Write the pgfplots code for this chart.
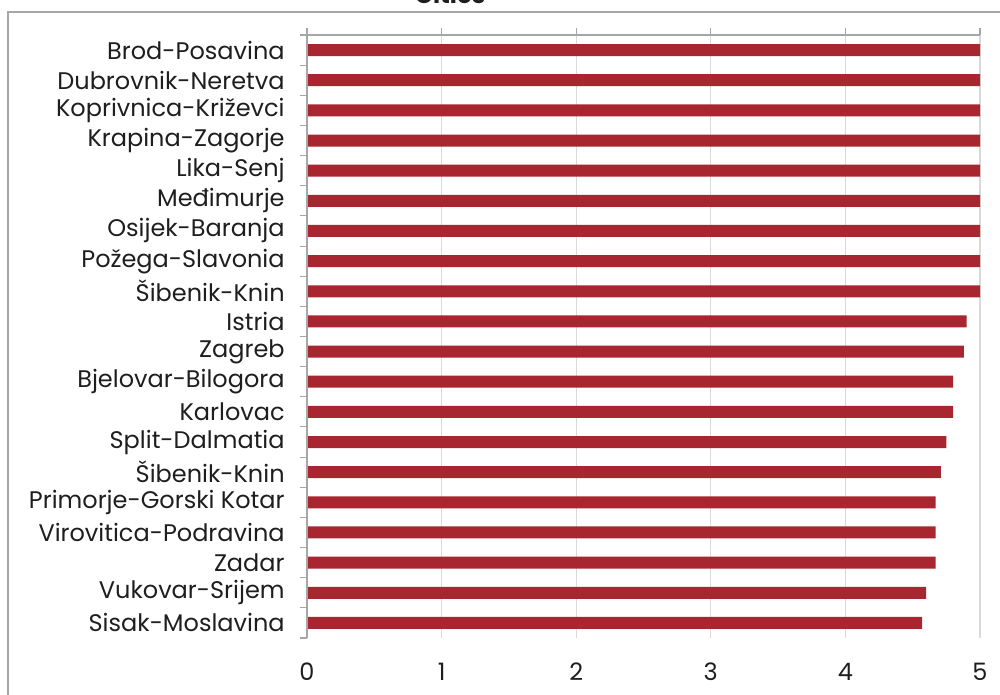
\documentclass[border=0pt]{standalone}
\usepackage{fontspec}
\setmainfont{Poppins}
\usepackage{pgfplots}
\pgfplotsset{compat=1.18}
\definecolor{barred}{RGB}{168,38,48}
\definecolor{gridgray}{RGB}{217,217,217}
\definecolor{axisgray}{RGB}{166,166,166}
\definecolor{txt}{RGB}{30,30,30}
\begin{document}
\begin{tikzpicture}
\useasboundingbox (0,0) rectangle (750pt,521.25pt);
% outer chart frame (cut at right and bottom)
\draw[axisgray, line width=1.2pt] (6pt,-5pt) -- (6pt,512.25pt) -- (760pt,512.25pt);
\node[anchor=base, text=txt, font=\bfseries\fontsize{18}{20}\selectfont] at (337.5pt,518.25pt) {Cities};
\begin{axis}[
  at={(230.25pt,42.75pt)}, anchor=south west,
  scale only axis, width=504.75pt, height=452.25pt,
  xbar, bar width=9pt, bar shift=0pt,
  xmin=0, xmax=5, ymin=0.5, ymax=20.5, y dir=reverse,
  xtick={0,...,5}, xtick pos=right, xticklabel pos=left,
  ytick={1,...,20}, ytick pos=left,
  yticklabels={Brod-Posavina, Dubrovnik-Neretva, Koprivnica-Križevci, Krapina-Zagorje,
    Lika-Senj, Međimurje, Osijek-Baranja, Požega-Slavonia, Šibenik-Knin, Istria, Zagreb,
    Bjelovar-Bilogora, Karlovac, Split-Dalmatia, Šibenik-Knin, Primorje-Gorski Kotar,
    Virovitica-Podravina, Zadar, Vukovar-Srijem, Sisak-Moslavina},
  minor ytick={0.5,1.5,...,20.5},
  every major y tick/.append style={draw=none},
  major tick length=5.25pt, minor tick length=5.25pt,
  tick align=outside, tick style={axisgray, line width=0.8pt},
  xmajorgrids, grid style={gridgray, line width=0.8pt},
  axis line style={draw=none},
  /pgf/number format/assume math mode=true,
  ticklabel style={text=txt, font=\fontsize{18}{20}\selectfont},
  xticklabel style={yshift=-10pt},
  yticklabel style={xshift=-8pt},
  clip=false,
]
\addplot[fill=barred, draw=none] coordinates {
  (5,1) (5,2) (5,3) (5,4) (5,5) (5,6) (5,7) (5,8) (5,9)
  (4.90,10) (4.88,11) (4.80,12) (4.80,13) (4.75,14) (4.71,15)
  (4.67,16) (4.67,17) (4.67,18) (4.60,19) (4.57,20)
};
\draw[axisgray, line width=0.8pt] (axis description cs:0,0) -- (axis description cs:0,1) -- (axis description cs:1,1);
\end{axis}
\end{tikzpicture}
\end{document}
